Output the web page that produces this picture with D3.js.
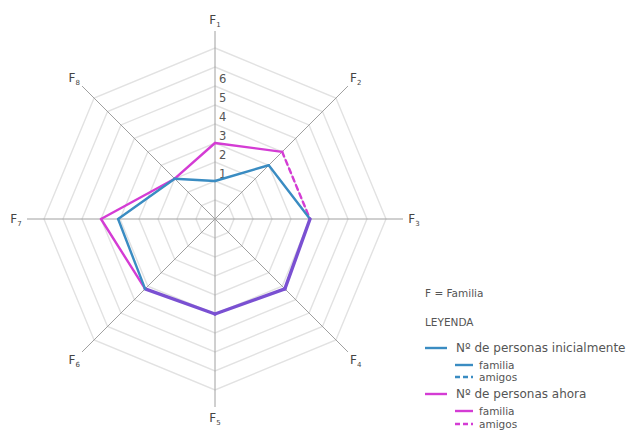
<!DOCTYPE html>
<html>
<head>
<meta charset="utf-8">
<script src="https://cdn.jsdelivr.net/npm/d3@7"></script>
<style>
  body { margin: 0; background: #fff; overflow: hidden; }
  text { font-family: "DejaVu Sans", sans-serif; fill: #555; }
</style>
</head>
<body>
<div id="chart"></div>
<script>
// axes, clockwise from the top
const axisNames = ["F1", "F2", "F3", "F4", "F5", "F6", "F7", "F8"];
const tickValues = [1, 2, 3, 4, 5, 6];
const ringValues = [0, 1, 2, 3, 4, 5, 6, 7, 8];

// Nº de personas inicialmente / ahora
const initialValues = [1, 3, 4, 4.2, 4, 4.2, 4.1, 2];
const nowValues = [3, 4, 4, 4.2, 4, 4.2, 5, 2];
// segment i goes from axis i to axis i+1 ; true = amigos (dashed)
const initialAmigos = [false, false, false, false, false, false, false, false];
const nowAmigos = [false, true, false, false, false, false, false, false];

const blue = "#3a8cc2", magenta = "#d43cd4", purple = "#7a50d2";

const legendItems = [
  { label: "Nº de personas inicialmente", color: blue, dash: null, level: 0 },
  { label: "familia", color: blue, dash: null, level: 1 },
  { label: "amigos", color: blue, dash: "5,3", level: 1 },
  { label: "Nº de personas ahora", color: magenta, dash: null, level: 0 },
  { label: "familia", color: magenta, dash: null, level: 1 },
  { label: "amigos", color: magenta, dash: "5,3", level: 1 }
];

const width = 635, height = 436;
const cx = 215, cy = 219;

const svg = d3.select("#chart").append("svg")
    .attr("width", width)
    .attr("height", height);

const r = d3.scaleLinear().domain([-1, 8]).range([0, 171]);
const angle = d3.scaleLinear().domain([0, axisNames.length]).range([0, 2 * Math.PI]);

const g = svg.append("g").attr("transform", `translate(${cx},${cy})`);

function pt(i, v) {
  const a = angle(i);
  return [Math.sin(a) * r(v), -Math.cos(a) * r(v)];
}

// rings
const ringLine = d3.line();
g.selectAll(".ring")
  .data(ringValues)
  .join("path")
    .attr("class", "ring")
    .attr("fill", "none")
    .attr("stroke", "#e2e2e2")
    .attr("stroke-width", 1.4)
    .attr("d", v => ringLine(axisNames.map((_, i) => pt(i, v))) + "Z");

// axes
const axisLen = 188;
g.selectAll(".axis")
  .data(axisNames)
  .join("line")
    .attr("class", "axis")
    .attr("x1", 0).attr("y1", 0)
    .attr("x2", (d, i) => Math.sin(angle(i)) * axisLen)
    .attr("y2", (d, i) => -Math.cos(angle(i)) * axisLen)
    .attr("stroke", "#a0a0a0")
    .attr("stroke-width", 1);

const labels = g.selectAll(".axis-label")
  .data(axisNames)
  .join("text")
    .attr("class", "axis-label")
    .attr("x", (d, i) => Math.sin(angle(i)) * 199)
    .attr("y", (d, i) => -Math.cos(angle(i)) * 199 + 4)
    .attr("text-anchor", "middle")
    .attr("font-size", 12)
    .style("fill", "#444");
labels.append("tspan").text(d => d[0]);
labels.append("tspan").attr("font-size", 7).attr("dy", 3).text(d => d.slice(1));

// tick labels on the top axis
g.selectAll(".tick")
  .data(tickValues)
  .join("text")
    .attr("class", "tick")
    .attr("x", 4)
    .attr("y", v => -r(v) - 3)
    .attr("font-size", 11.5)
    .text(d => d);

// series: segments shared by both series are drawn once in purple
function same(i) {
  const j = (i + 1) % nowValues.length;
  return initialValues[i] === nowValues[i] && initialValues[j] === nowValues[j] &&
    initialAmigos[i] === nowAmigos[i];
}
function drawSeries(values, amigos, color, skipShared, sharedColor) {
  values.forEach((v, i) => {
    const shared = same(i);
    if (shared && skipShared) return;
    const j = (i + 1) % values.length;
    const a = pt(i, v), b = pt(j, values[j]);
    g.append("line")
      .attr("x1", a[0]).attr("y1", a[1])
      .attr("x2", b[0]).attr("y2", b[1])
      .attr("stroke", shared ? sharedColor : color)
      .attr("stroke-width", shared ? 3.4 : 2.4)
      .attr("stroke-linecap", "round")
      .attr("stroke-dasharray", amigos[i] ? "5,4" : null);
  });
}
drawSeries(nowValues, nowAmigos, magenta, true);
drawSeries(initialValues, initialAmigos, blue, false, purple);

// legend
const lg = svg.append("g").attr("transform", "translate(425,0)");
lg.append("text").attr("x", 0).attr("y", 297).attr("font-size", 10.5).text("F = Familia");
lg.append("text").attr("x", 0).attr("y", 326).attr("font-size", 10.5).text("LEYENDA");

const rowY = [352, 369, 381, 398, 415, 428];
legendItems.forEach((d, i) => {
  const x0 = d.level ? 30 : 0;
  const len = d.level ? 18 : 22;
  const y = rowY[i];
  lg.append("line")
    .attr("x1", x0).attr("x2", x0 + len)
    .attr("y1", y - 4).attr("y2", y - 4)
    .attr("stroke", d.color)
    .attr("stroke-width", 2.4)
    .attr("stroke-dasharray", d.dash);
  lg.append("text")
    .attr("x", d.level ? 54 : 31)
    .attr("y", y)
    .attr("font-size", d.level ? 10.5 : 12)
    .text(d.label);
});
</script>
</body>
</html>
